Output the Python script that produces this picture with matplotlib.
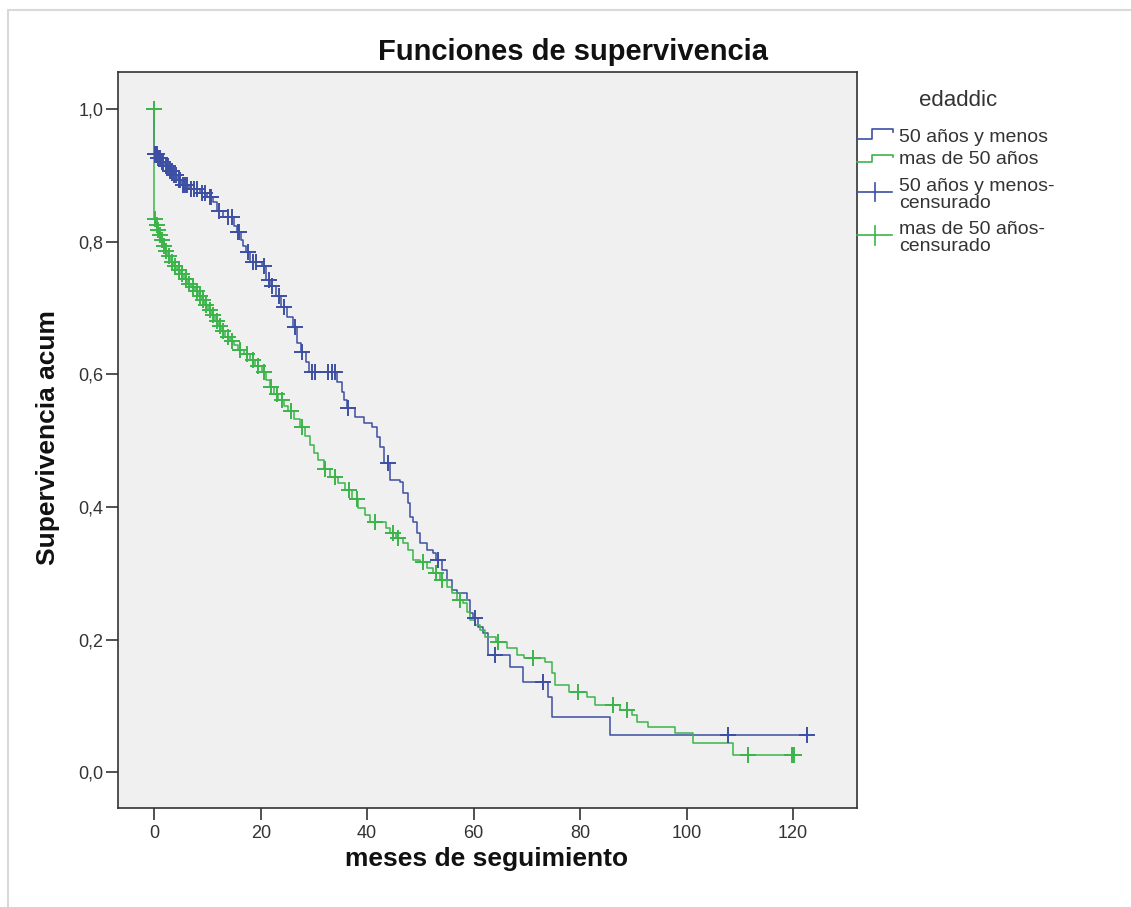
import numpy as np
import matplotlib
matplotlib.use("Agg")
import matplotlib.pyplot as plt
from matplotlib.lines import Line2D

plt.rcParams['font.family'] = ['Liberation Sans', 'DejaVu Sans']

# --- Kaplan-Meier estimates by age group (months of follow-up) ---
group_labels = ["50 años y menos", "mas de 50 años"]
censor_labels = ["50 años y menos-\ncensurado", "mas de 50 años-\ncensurado"]

young_event_t = [0.0, 0.6, 1.3, 2.0, 2.8, 3.6, 4.4, 5.2, 6.6, 8.6, 10.0, 11.1, 11.8,
                 13.0, 15.0, 15.6, 16.3, 16.7, 17.2, 18.0, 20.3, 21.0, 21.7, 22.8,
                 23.9, 24.9, 26.0, 26.8, 27.5, 28.5, 29.0, 34.4, 35.2, 35.6, 36.2,
                 37.8, 39.4, 40.9, 41.8, 42.4, 43.2, 44.3, 46.2, 46.8, 47.6, 48.1,
                 48.6, 49.4, 50.0, 51.3, 52.4, 52.9, 54.1, 55.0, 56.0, 56.9, 58.8,
                 59.3, 59.8, 60.8, 61.8, 62.7, 66.9, 69.3, 74.0, 74.8, 85.6]
young_event_s = [0.932, 0.926, 0.920, 0.914, 0.907, 0.900, 0.893, 0.886, 0.879, 0.873,
                 0.867, 0.860, 0.846, 0.838, 0.823, 0.814, 0.803, 0.793, 0.784, 0.770,
                 0.763, 0.743, 0.733, 0.718, 0.702, 0.687, 0.671, 0.648, 0.633, 0.618,
                 0.603, 0.589, 0.574, 0.562, 0.550, 0.536, 0.527, 0.520, 0.505, 0.491,
                 0.467, 0.441, 0.437, 0.421, 0.406, 0.385, 0.377, 0.361, 0.346, 0.335,
                 0.331, 0.320, 0.305, 0.290, 0.275, 0.270, 0.260, 0.240, 0.232, 0.219,
                 0.210, 0.176, 0.159, 0.136, 0.113, 0.083, 0.056]
young_censor_t = [0.15, 0.3, 0.45, 0.8, 1.0, 1.15, 1.5, 1.7, 2.2, 2.4, 2.6, 3.0, 3.2,
                  3.4, 3.8, 4.0, 4.6, 4.8, 5.5, 5.8, 6.2, 7.0, 7.4, 8.0, 9.0, 9.6,
                  10.4, 10.7, 12.2, 13.9, 14.6, 15.8, 16.0, 17.7, 18.6, 19.2, 20.6,
                  21.5, 22.2, 23.5, 24.3, 26.5, 27.7, 29.7, 30.2, 32.7, 33.4, 34.0,
                  36.4, 43.9, 53.3, 60.3, 64.0, 73.1, 107.8, 122.6]

old_event_t = [0.0, 0.3, 0.6, 0.9, 1.2, 1.6, 2.0, 2.5, 3.0, 3.6, 4.3, 4.9, 5.6, 6.3,
               7.0, 7.7, 8.3, 8.9, 9.5, 10.1, 10.8, 11.5, 12.1, 12.7, 13.3, 14.2,
               15.0, 15.8, 16.9, 18.0, 19.0, 20.3, 21.0, 21.8, 22.5, 23.3, 24.3,
               25.2, 26.3, 27.4, 28.3, 29.3, 30.0, 30.8, 31.9, 33.1, 34.5, 35.9,
               37.1, 38.3, 39.5, 40.6, 43.5, 44.3, 45.5, 46.8, 47.7, 48.6, 50.0,
               51.3, 52.4, 53.7, 55.0, 56.0, 56.9, 58.0, 58.7, 59.3, 60.3, 61.2,
               62.2, 64.2, 66.3, 68.2, 69.5, 73.4, 74.7, 75.3, 78.0, 81.3, 82.8,
               87.5, 89.8, 90.7, 92.8, 97.8, 101.2, 108.7]
old_event_s = [0.834, 0.826, 0.818, 0.810, 0.802, 0.794, 0.786, 0.778, 0.770, 0.763,
               0.757, 0.751, 0.744, 0.737, 0.731, 0.725, 0.718, 0.712, 0.705, 0.697,
               0.689, 0.681, 0.673, 0.665, 0.657, 0.651, 0.644, 0.637, 0.630, 0.622,
               0.613, 0.604, 0.592, 0.581, 0.571, 0.562, 0.553, 0.544, 0.532, 0.520,
               0.507, 0.494, 0.482, 0.471, 0.458, 0.445, 0.436, 0.426, 0.412, 0.399,
               0.388, 0.378, 0.368, 0.361, 0.353, 0.346, 0.335, 0.320, 0.317, 0.308,
               0.301, 0.290, 0.279, 0.270, 0.260, 0.255, 0.242, 0.230, 0.222, 0.215,
               0.204, 0.196, 0.187, 0.177, 0.172, 0.166, 0.150, 0.131, 0.121, 0.113,
               0.101, 0.094, 0.086, 0.076, 0.068, 0.059, 0.044, 0.026]
old_censor_t = [0.0, 0.15, 0.45, 0.75, 1.05, 1.4, 1.8, 2.2, 2.7, 3.3, 3.9, 4.6, 5.2,
                5.9, 6.6, 7.3, 8.0, 8.6, 9.2, 9.8, 10.4, 11.1, 11.8, 12.4, 13.0,
                13.8, 14.6, 16.2, 17.5, 18.5, 19.5, 20.7, 22.0, 23.0, 24.0, 25.6,
                27.8, 32.0, 34.0, 36.5, 38.0, 41.5, 44.8, 45.8, 50.5, 53.0, 54.0,
                57.5, 64.6, 71.2, 79.6, 86.2, 88.8, 111.5, 119.8, 120.2]

x_ticks = [0, 20, 40, 60, 80, 100, 120]
y_ticks = [0.0, 0.2, 0.4, 0.6, 0.8, 1.0]

BLUE = '#3D4FA3'
GREEN = '#3BB44A'

W, H = 1131, 907
fig = plt.figure(figsize=(W / 100, H / 100), dpi=100)
fig.patch.set_facecolor('white')


def fx(x):
    return x / W


def fy(y):
    return 1 - y / H


# outer panel frame
fig.add_artist(Line2D([fx(8), fx(8)], [0, fy(10)], color='#d9d9d9', lw=1.5))
fig.add_artist(Line2D([fx(8), 1], [fy(10), fy(10)], color='#d9d9d9', lw=1.5))

ax = fig.add_axes([fx(118), fy(808), (857 - 118) / W, (808 - 72) / H])
ax.set_facecolor('#F0F0F0')


def km_curve(event_t, event_s, censor_t):
    et = np.asarray(event_t, float)
    es = np.asarray(event_s, float)
    ct = np.asarray(censor_t, float)
    t_end = max(ct.max(), et.max())
    xs = np.concatenate([[0.0], et, [t_end]])
    ys = np.concatenate([[1.0], es, [es[-1]]])
    # survival just before each censoring time
    idx = np.searchsorted(et, ct, side='left')
    cs = np.where(idx == 0, 1.0, es[np.maximum(idx - 1, 0)])
    return xs, ys, ct, cs


series = [
    (young_event_t, young_event_s, young_censor_t, BLUE),
    (old_event_t, old_event_s, old_censor_t, GREEN),
]

curves = [km_curve(a, b, c) for a, b, c, _ in series]
for (xs, ys, ct, cs), (_, _, _, col) in zip(curves, series):
    ax.step(xs, ys, where='post', color=col, lw=1.1, zorder=3)
for (xs, ys, ct, cs), (_, _, _, col) in zip(curves, series):
    ax.plot(ct, cs, linestyle='none', marker='+', markersize=11,
            markeredgewidth=1.4, color=col, zorder=4)

ax.set_xlim(-6.8, 132.0)
ax.set_ylim(-0.054, 1.056)
ax.set_xticks(x_ticks)
ax.set_xticklabels([str(v) for v in x_ticks])
ax.set_yticks(y_ticks)
ax.set_yticklabels([f"{v:.1f}".replace('.', ',') for v in y_ticks])
ax.tick_params(direction='out', length=8.5, width=1.1, colors='#222222',
               labelsize=13, labelcolor='#333333')
ax.tick_params(axis='x', pad=4)
ax.tick_params(axis='y', pad=2)
for sp in ax.spines.values():
    sp.set_color('#333333')
    sp.set_linewidth(1.2)

# titles
fig.text(fx(573), fy(52), "Funciones de supervivencia", ha='center', va='center',
         fontsize=21, fontweight='bold', color='#111111')
fig.text(fx(48), fy(438), "Supervivencia acum", ha='center', va='center',
         rotation=90, fontsize=19, fontweight='bold', color='#111111')
fig.text(fx(487), fy(859), "meses de seguimiento", ha='center', va='center',
         fontsize=19, fontweight='bold', color='#111111')

# legend
fig.text(fx(958), fy(100), "edaddic", ha='center', va='center', fontsize=16,
         color='#333333')
step_glyphs = [
    ([857, 872, 872, 893, 893], [139, 139, 129, 129, 132], BLUE, 137),
    ([857, 872, 872, 893, 893], [162, 162, 155, 155, 157], GREEN, 160),
]
for xs, ys, col, ty in step_glyphs:
    fig.add_artist(Line2D([fx(v) for v in xs], [fy(v) for v in ys], color=col, lw=1.2))
for (xs, ys, col, ty), lab in zip(step_glyphs, group_labels):
    fig.text(fx(899), fy(ty), lab, ha='left', va='center', fontsize=14, color='#333333')

censor_glyphs = [(192, 183, 201, BLUE, 195), (235, 226, 245, GREEN, 238)]
for (ly, t0, t1, col, ty), lab in zip(censor_glyphs, censor_labels):
    fig.add_artist(Line2D([fx(857), fx(892)], [fy(ly), fy(ly)], color=col, lw=1.2))
    fig.add_artist(Line2D([fx(875), fx(875)], [fy(t0), fy(t1)], color=col, lw=1.2))
    fig.text(fx(899), fy(ty), lab, ha='left', va='center', fontsize=14,
             color='#333333', linespacing=0.95)

fig.savefig("out.png", dpi=100)
